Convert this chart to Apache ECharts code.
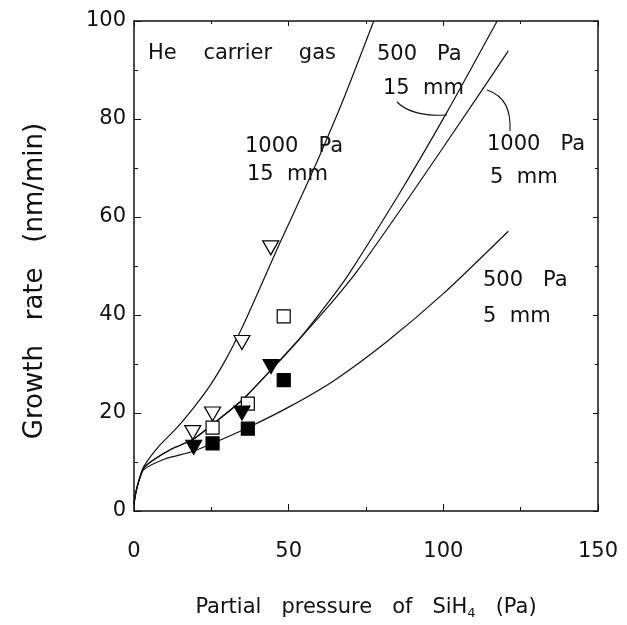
<!DOCTYPE html>
<html>
<head>
<meta charset="utf-8">
<script src="https://cdn.jsdelivr.net/npm/echarts@6.0.0/dist/echarts.min.js"></script>
<style>
  html, body { margin: 0; padding: 0; background: #fff; }
  #chart { width: 627px; height: 625px; }
</style>
</head>
<body>
<div id="chart"></div>
<script>
// model curves, [SiH4 partial pressure (Pa), growth rate (nm/min)]
var curve1000Pa15mm = [[0, 1.5], [0.5, 3.5], [1.5, 6], [3.1, 9], [8, 13.2], [13.9, 17], [19.8, 21.5], [25, 26], [30, 31.3], [35, 37.5], [40, 44.5], [47, 54.5], [53.6, 63.5], [60, 72.5], [68, 84.5], [77.5, 100]];
var curve500Pa15mm = [[0, 1.5], [0.5, 3.5], [1.5, 6], [3.1, 8.7], [6, 10.3], [12, 12.6], [19.3, 14.7], [25.4, 17.7], [34.9, 22.6], [44.3, 28.8], [53.6, 35.2], [64.5, 44], [69.7, 48.6], [85.9, 64.9], [101, 81.2], [117.4, 100]];
var curve1000Pa5mm = [[0, 1.5], [0.5, 3.5], [1.5, 6], [3.1, 8.7], [6, 10.3], [12, 12.6], [19.3, 14.7], [25.4, 17.7], [34.9, 22.6], [44.3, 28.8], [53.6, 35.2], [64.5, 43.0], [72.2, 49], [89.9, 64.9], [110.7, 84.2], [121, 93.9]];
var curve500Pa5mm = [[0, 1.5], [0.5, 3.5], [1.5, 6], [3.1, 8.4], [10, 10.6], [19.3, 12.2], [25.4, 13.8], [36.8, 17.0], [50.6, 21.4], [64.6, 26.6], [81.6, 34.5], [99.9, 44.3], [121, 57.1]];

// measured points
var openTriangles = [[19.0, 16.0], [25.4, 19.8], [34.9, 34.4], [44.2, 53.7]];
var openSquares = [[25.4, 17.0], [36.8, 21.9], [48.4, 39.7]];
var filledTriangles = [[19.3, 13.0], [34.9, 20.0], [44.3, 29.5]];
var filledSquares = [[25.4, 13.8], [36.8, 16.8], [48.4, 26.7]];

var xTicks = [0, 50, 100, 150];
var yTicks = [0, 20, 40, 60, 80, 100];

var font = "DejaVu Sans";
var ink = "#111";

var chart = echarts.init(document.getElementById("chart"));

function curve(data) {
	return {
		type: "line",
		data: data,
		smooth: 0.25,
		showSymbol: false,
		lineStyle: { color: ink, width: 1.2 },
		silent: true,
		z: 2
	};
}

function markers(data, symbol, filled) {
	return {
		type: "scatter",
		data: data,
		symbol: symbol,
		symbolRotate: symbol === "triangle" ? 180 : 0,
		symbolSize: symbol === "triangle" ? [16, 14] : 13,
		itemStyle: {
			color: filled ? "#000" : "#fff",
			borderColor: "#000",
			borderWidth: 1.2,
			opacity: 1
		},
		z: 5
	};
}

function annot(text, x, y) {
	return {
		type: "text",
		left: x,
		top: y,
		style: { text: text, font: "21px '" + font + "'", fill: ink }
	};
}

var axisLine = { show: true, onZero: false, lineStyle: { color: ink, width: 1.5 } };

var option = {
	animation: false,
	grid: { left: 134, right: 29, top: 21, bottom: 103 },
	xAxis: [
		{
			type: "value",
			min: 0,
			max: 150,
			interval: 50,
			name: "Partial   pressure   of   SiH{sub|4}   (Pa)",
			nameLocation: "middle",
			nameGap: 84,
			nameTextStyle: {
				fontFamily: font, fontSize: 21, color: ink,
				rich: { sub: { fontFamily: font, fontSize: 13, color: ink, verticalAlign: "bottom", padding: [12, 0, 0, 0] } }
			},
			axisLine: axisLine,
			axisTick: { inside: true, length: 7, lineStyle: { color: ink } },
			minorTick: { show: true, splitNumber: 2, length: 4, lineStyle: { color: ink } },
			splitLine: { show: false },
			axisLabel: {
				margin: 30, fontFamily: font, fontSize: 21, color: ink,
				formatter: function (v) { return xTicks.indexOf(v) >= 0 ? String(v) : ""; }
			}
		},
		{
			type: "value",
			position: "top",
			min: 0,
			max: 150,
			interval: 50,
			axisLine: axisLine,
			axisTick: { inside: true, length: 5, lineStyle: { color: ink } },
			minorTick: { show: true, splitNumber: 2, length: 3, lineStyle: { color: ink } },
			splitLine: { show: false },
			axisLabel: { show: false }
		}
	],
	yAxis: [
		{
			type: "value",
			min: 0,
			max: 100,
			interval: 20,
			name: "Growth   rate   (nm/min)",
			nameLocation: "middle",
			nameGap: 86,
			nameRotate: 90,
			nameTextStyle: { fontFamily: font, fontSize: 26, color: ink, padding: [0, 30, 0, 0] },
			axisLine: axisLine,
			axisTick: { inside: true, length: 7, lineStyle: { color: ink } },
			minorTick: { show: true, splitNumber: 2, length: 4, lineStyle: { color: ink } },
			splitLine: { show: false },
			axisLabel: {
				margin: 8, fontFamily: font, fontSize: 21, color: ink,
				formatter: function (v) { return yTicks.indexOf(v) >= 0 ? String(v) : ""; }
			}
		},
		{
			type: "value",
			position: "right",
			min: 0,
			max: 100,
			interval: 20,
			axisLine: axisLine,
			axisTick: { inside: true, length: 5, lineStyle: { color: ink } },
			minorTick: { show: true, splitNumber: 2, length: 3, lineStyle: { color: ink } },
			splitLine: { show: false },
			axisLabel: { show: false }
		}
	],
	series: [
		curve(curve1000Pa15mm),
		curve(curve500Pa15mm),
		curve(curve1000Pa5mm),
		curve(curve500Pa5mm),
		markers(openTriangles, "triangle", false),
		markers(openSquares, "rect", false),
		markers(filledTriangles, "triangle", true),
		markers(filledSquares, "rect", true)
	],
	graphic: [
		annot("He    carrier    gas", 148, 43),
		annot("500   Pa", 377, 44),
		annot("15  mm", 383, 78),
		annot("1000   Pa", 245, 136),
		annot("15  mm", 247, 164),
		annot("1000   Pa", 487, 134),
		annot("5  mm", 490, 167),
		annot("500   Pa", 483, 270),
		annot("5  mm", 483, 306),
		{
			type: "bezierCurve",
			shape: { x1: 397, y1: 102, cpx1: 410, cpy1: 115, cpx2: 430, cpy2: 116, x2: 447, y2: 115 },
			style: { stroke: ink, lineWidth: 1.1, fill: null }
		},
		{
			type: "bezierCurve",
			shape: { x1: 487, y1: 90, cpx1: 505, cpy1: 96, cpx2: 511, cpy2: 110, x2: 510, y2: 131 },
			style: { stroke: ink, lineWidth: 1.1, fill: null }
		}
	]
};

chart.setOption(option);
</script>
</body>
</html>
